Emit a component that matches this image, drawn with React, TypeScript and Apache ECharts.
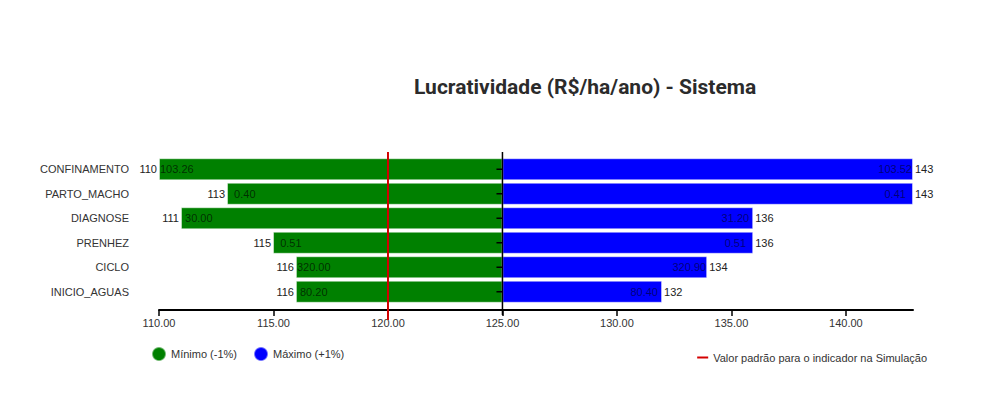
import React, { useEffect, useRef } from "react";
import * as echarts from "echarts";

const categories = ["CONFINAMENTO", "PARTO_MACHO", "DIAGNOSE", "PRENHEZ", "CICLO", "INICIO_AGUAS"];
const minResults = [110.0, 112.97, 110.96, 114.98, 115.98, 115.98];
const maxResults = [142.93, 142.93, 135.95, 135.95, 133.94, 131.97];
const minParams = ["103.26", "0.40", "30.00", "0.51", "320.00", "80.20"];
const maxParams = ["103.52", "0.41", "31.20", "0.51", "320.90", "80.40"];
const baseValue = 125;
const defaultValue = 120;
const axisMin = 110;
const axisMax = 142.93;
const axisInterval = 5;

const minName = "Mínimo (-1%)";
const maxName = "Máximo (+1%)";
const lineName = "Valor padrão para o indicador na Simulação";
const titleText = "Lucratividade (R$/ha/ano) - Sistema";

const FONT = "'Liberation Sans', Arial, sans-serif";

export default function App() {
  const ref = useRef<HTMLDivElement>(null);
  useEffect(() => {
    if (!ref.current) return;
    document.body.style.margin = "0";
    const chart = echarts.init(ref.current, undefined, { renderer: "svg" });
    const barCommon = {
      type: "bar" as const,
      barWidth: 22,
      barGap: "-100%",
      animation: false,
    };
    chart.setOption({
      animation: false,
      textStyle: { fontFamily: FONT },
      title: {
        text: titleText,
        left: 409,
        top: 71,
        textStyle: { fontFamily: "Roboto", fontSize: 21, fontWeight: "bold", color: "#2b2b2b" },
      },
      grid: { left: 159, right: 81, top: 157, bottom: 116, containLabel: false },
      legend: [
        {
          data: [minName, maxName],
          left: 146,
          top: 341,
          icon: "circle",
          itemWidth: 14,
          itemHeight: 14,
          itemGap: 16,
          textStyle: { fontSize: 11, color: "#333", fontFamily: FONT },
          selectedMode: false,
        },
        {
          data: [{ name: lineName, icon: "rect" }],
          right: 62,
          top: 347,
          itemWidth: 11,
          itemHeight: 2,
          textStyle: { fontSize: 11, color: "#333", fontFamily: FONT },
          selectedMode: false,
        },
      ],
      xAxis: {
        type: "value",
        min: axisMin,
        max: axisMax,
        interval: axisInterval,
        offset: 6,
        splitLine: { show: false },
        axisLine: { show: true, lineStyle: { color: "#000", width: 2 } },
        axisTick: { show: true, length: 6, lineStyle: { color: "#000", width: 1.5 } },
        axisLabel: {
          formatter: (v: number) => v.toFixed(2),
          showMaxLabel: false,
          fontSize: 11,
          color: "#333",
          margin: 7,
          fontFamily: FONT,
        },
      },
      yAxis: {
        type: "category",
        data: categories,
        inverse: true,
        axisLine: { show: false },
        axisTick: { show: false },
        axisLabel: { margin: 30, fontSize: 11, color: "#333", fontFamily: FONT },
      },
      series: [
        {
          ...barCommon,
          name: "minPad",
          stack: "min",
          clip: false,
          silent: true,
          data: minResults,
          itemStyle: { color: "rgba(0,0,0,0)" },
          label: {
            show: true,
            position: "insideRight",
            distance: 2,
            fontSize: 11,
            color: "#222",
            fontFamily: FONT,
            formatter: (p: any) => String(Math.round(minResults[p.dataIndex])),
          },
        },
        {
          ...barCommon,
          name: minName,
          stack: "min",
          data: minResults.map((v) => baseValue - v),
          itemStyle: { color: "#008000", borderColor: "rgba(255,255,255,0.45)", borderWidth: 1 },
          label: {
            show: true,
            position: "insideLeft",
            distance: 1,
            fontSize: 11,
            color: "rgba(0,0,0,0.65)",
            fontFamily: FONT,
            formatter: (p: any) => minParams[p.dataIndex].padStart(6, "\u00a0"),
          },
        },
        {
          ...barCommon,
          name: "maxPad",
          stack: "max",
          clip: false,
          silent: true,
          data: categories.map(() => baseValue),
          itemStyle: { color: "rgba(0,0,0,0)" },
        },
        {
          ...barCommon,
          name: maxName,
          stack: "max",
          data: maxResults.map((v) => v - baseValue),
          itemStyle: { color: "#0000ff", borderColor: "rgba(255,255,255,0.45)", borderWidth: 1 },
          label: {
            show: true,
            position: "insideRight",
            distance: 1,
            fontSize: 11,
            color: "rgba(0,0,0,0.55)",
            fontFamily: FONT,
            formatter: (p: any) => maxParams[p.dataIndex].padEnd(6, "\u00a0"),
          },
        },
        {
          ...barCommon,
          name: "maxEnd",
          stack: "max",
          clip: false,
          silent: true,
          data: categories.map(() => 0),
          itemStyle: { color: "rgba(0,0,0,0)" },
          label: {
            show: true,
            position: "right",
            distance: 2,
            fontSize: 11,
            color: "#222",
            fontFamily: FONT,
            formatter: (p: any) => String(Math.round(maxResults[p.dataIndex])),
          },
        },
        {
          type: "custom",
          name: lineName,
          z: 10,
          clip: false,
          silent: true,
          itemStyle: { color: "#d40000" },
          data: [[baseValue, 0]],
          renderItem: (_params: any, api: any) => {
            const n = categories.length;
            const first = api.coord([baseValue, 0]);
            const last = api.coord([baseValue, n - 1]);
            const half = api.size([0, 1])[1] / 2;
            const top = first[1] - half - 5;
            const axisBottom = last[1] + half + 11;
            const redBottom = last[1] + half + 16;
            const ax = first[0];
            const redX = api.coord([defaultValue, 0])[0];
            const children: any[] = [
              {
                type: "line",
                shape: { x1: ax, y1: top, x2: ax, y2: axisBottom },
                style: { stroke: "#000", lineWidth: 1.5 },
              },
            ];
            for (let i = 0; i < n; i++) {
              const c = api.coord([baseValue, i]);
              children.push({
                type: "line",
                shape: { x1: ax - 6, y1: c[1], x2: ax, y2: c[1] },
                style: { stroke: "#000", lineWidth: 1.5 },
              });
            }
            children.push({
              type: "line",
              shape: { x1: redX, y1: top, x2: redX, y2: redBottom },
              style: { stroke: "#d40000", lineWidth: 2 },
            });
            return { type: "group", children };
          },
        },
      ],
    });
    return () => chart.dispose();
  }, []);
  return <div ref={ref} style={{ width: 994, height: 420 }} />;
}
